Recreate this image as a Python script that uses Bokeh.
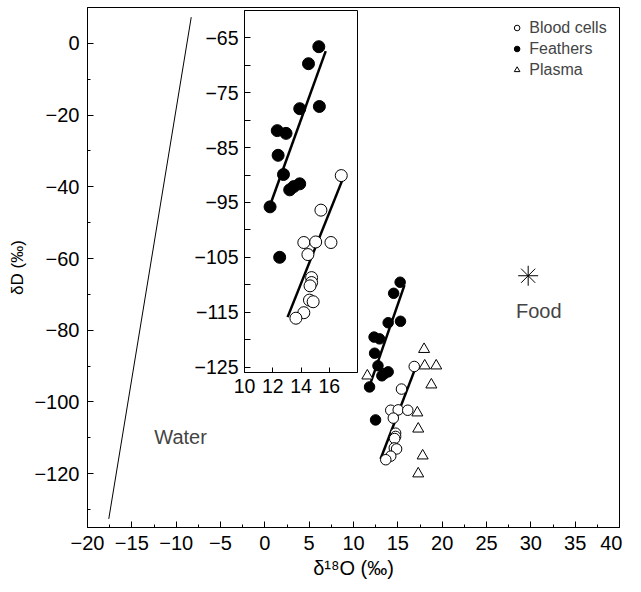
from bokeh.plotting import figure
from bokeh.models import FixedTicker, Legend, LegendItem, Label
from bokeh.layouts import column
from bokeh.embed import file_html
from bokeh.resources import INLINE

# ---- data ----
blood_x = [16.85, 15.41, 14.20, 15.04, 16.12, 14.49, 14.75, 14.75, 14.64, 14.60, 14.86, 14.20, 13.64]
blood_y = [-90.1, -96.4, -102.3, -102.2, -102.3, -104.5, -108.7, -109.6, -110.2, -112.8, -113.1, -115.1, -116.1]
feather_x = [15.26, 14.53, 13.91, 15.30, 12.32, 12.94, 12.38, 12.76, 13.20, 13.49, 13.91, 11.81, 12.49]
feather_y = [-66.6, -69.7, -77.9, -77.5, -81.9, -82.4, -86.4, -89.9, -92.7, -92.1, -91.6, -95.8, -105.0]
plasma_x = [17.96, 18.03, 19.33, 18.78, 17.2, 17.3, 17.8, 17.3, 11.56]
plasma_y = [-85.3, -89.9, -89.9, -95.2, -103.0, -107.5, -115.0, -120.0, -92.7]
feather_fit_x = [11.88, 15.75]
feather_fit_y = [-95.0, -67.4]
blood_fit_x = [13.05, 16.96]
blood_fit_y = [-115.9, -90.7]
water_x = [-17.6, -8.3]
water_y = [-132.6, 7.3]
food_x = [29.7]
food_y = [-64.8]

x_ticks = list(range(-20, 45, 5))
y_ticks = list(range(-120, 1, 20))
y_minor = list(range(-130, 11, 10))
inset_y_ticks = list(range(-125, -64, 10))
inset_y_minor = list(range(-120, -59, 10))
inset_x_ticks = [10, 12, 14, 16]

FONT = "Liberation Sans"


def minus(v):
    return ("\u2212" + str(abs(v))) if v < 0 else str(v)


def style_axes(fig, size):
    for ax in (fig.xaxis[0], fig.yaxis[0]):
        ax.major_label_text_font = FONT
        ax.major_label_text_font_size = size
        ax.major_label_text_color = "black"
        ax.axis_label_text_font = FONT
        ax.axis_label_text_font_style = "normal"
        ax.axis_label_text_color = "black"
        ax.axis_line_color = "black"
        ax.major_tick_line_color = "black"
        ax.minor_tick_line_color = "black"
        ax.major_tick_out = 0
        ax.minor_tick_out = 0


MAIN_H = 590

# ---- main figure ----
p = figure(frame_width=540, frame_height=520, x_range=(-20, 40), y_range=(-135, 10),
           output_backend="svg", toolbar_location=None,
           min_border_left=80, min_border_right=8, min_border_top=7, min_border_bottom=63)
p.grid.visible = False
p.outline_line_color = "black"
p.background_fill_color = "white"
style_axes(p, "20px")
p.xaxis.ticker = FixedTicker(ticks=x_ticks, minor_ticks=[v + 2.5 for v in x_ticks[:-1]])
p.yaxis.ticker = FixedTicker(ticks=y_ticks, minor_ticks=y_minor)
p.xaxis.major_label_overrides = {v: minus(v) for v in x_ticks}
p.yaxis.major_label_overrides = {v: minus(v) for v in y_ticks}
p.xaxis.major_tick_in = 6
p.yaxis.major_tick_in = 6
p.xaxis.minor_tick_in = 3
p.yaxis.minor_tick_in = 3
p.xaxis.major_label_standoff = 8
p.yaxis.major_label_standoff = 8
p.xaxis.axis_label = "\u03b4\u00b9\u2078O (\u2030)"
p.yaxis.axis_label = "\u03b4D (\u2030)"
p.xaxis.axis_label_text_font_size = "20px"
p.yaxis.axis_label_text_font_size = "17px"
p.xaxis.axis_label_standoff = 4
p.yaxis.axis_label_standoff = 4
p.margin = (0, 0, 0, -8)

p.line(water_x, water_y, line_color="black", line_width=1)
p.line(feather_fit_x, feather_fit_y, line_color="black", line_width=2.5)
p.line(blood_fit_x, blood_fit_y, line_color="black", line_width=2.5)
r_pl = p.scatter(plasma_x, plasma_y, marker="triangle", size=11, fill_color="white",
                 line_color="black", line_width=1)
r_fe = p.scatter(feather_x, feather_y, marker="circle", size=10.5, fill_color="black",
                 line_color="black")
r_bl = p.scatter(blood_x, blood_y, marker="circle", size=10.5, fill_color="white",
                 line_color="black", line_width=1)
p.scatter(food_x, food_y, marker="asterisk", size=20, line_color="black", line_width=1)

p.add_layout(Label(x=-9.5, y=-109.7, text="Water", text_font=FONT, text_font_size="20px",
                   text_align="center", text_baseline="middle"))
p.add_layout(Label(x=30.9, y=-74.7, text="Food", text_font=FONT, text_font_size="20px",
                   text_align="center", text_baseline="middle"))

legend = Legend(items=[LegendItem(label="Blood cells", renderers=[r_bl]),
                       LegendItem(label="Feathers", renderers=[r_fe]),
                       LegendItem(label="Plasma", renderers=[r_pl])],
                location="top_right")
legend.border_line_alpha = 0
legend.background_fill_alpha = 0
legend.label_text_font = FONT
legend.label_text_font_size = "16px"
legend.glyph_width = 14
legend.glyph_height = 21
legend.label_height = 21
legend.spacing = 0
legend.padding = 2
legend.margin = 8
legend.label_standoff = 6
p.add_layout(legend)

# ---- inset figure ----
IN_LEFT = 95
q = figure(width=IN_LEFT + 119 + 2, height=10 + 362 + 32, x_range=(10, 18), y_range=(-126, -60),
           output_backend="svg", toolbar_location=None,
           min_border_left=IN_LEFT, min_border_right=2, min_border_top=10, min_border_bottom=32)
q.grid.visible = False
q.outline_line_color = "black"
q.background_fill_color = "white"
q.border_fill_color = None
style_axes(q, "19.5px")
q.xaxis.ticker = FixedTicker(ticks=inset_x_ticks)
q.yaxis.ticker = FixedTicker(ticks=inset_y_ticks, minor_ticks=inset_y_minor)
q.yaxis.major_label_overrides = {v: minus(v) for v in inset_y_ticks}
q.xaxis.major_tick_in = 5
q.yaxis.major_tick_in = 6
q.yaxis.minor_tick_in = 6
q.xaxis.major_label_standoff = 6
q.yaxis.major_label_standoff = 6

q.line(feather_fit_x, feather_fit_y, line_color="black", line_width=2.5)
q.line(blood_fit_x, blood_fit_y, line_color="black", line_width=2.5)
q.scatter(feather_x, feather_y, marker="circle", size=12, fill_color="black", line_color="black")
q.scatter(blood_x, blood_y, marker="circle", size=12, fill_color="white",
          line_color="black", line_width=1)

q.margin = (-MAIN_H, 0, 0, 244 - IN_LEFT)

layout = column(p, q)
open("out.html", "w").write(file_html(layout, INLINE))
